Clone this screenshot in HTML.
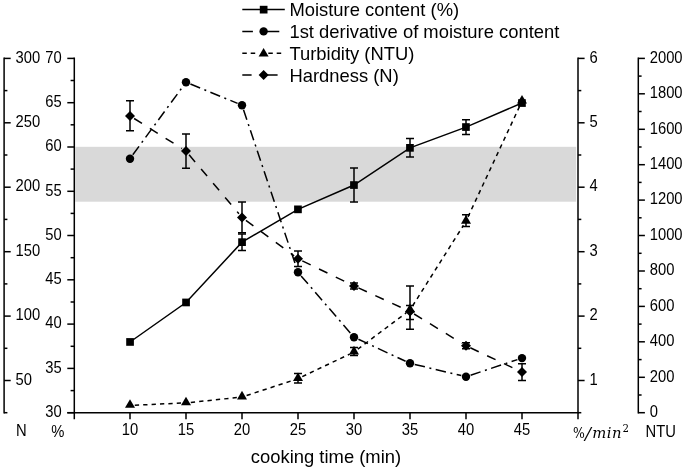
<!DOCTYPE html>
<html lang="en"><head><meta charset="utf-8"><title>Cooking time chart</title>
<style>html,body{margin:0;padding:0;background:#fff}svg{display:block}text{font-family:"Liberation Sans",Arial,sans-serif;fill:#000}.ax{stroke:#000;stroke-width:1.5;fill:none;stroke-linecap:butt}.ln{stroke:#000;stroke-width:1.5;fill:none}.eb{stroke:#000;stroke-width:1.5;fill:none}.m text{font-family:"DejaVu Serif","Liberation Serif",serif}.t{font-size:15.0px}.l{font-size:17.7px}</style>
</head><body>
<svg width="685" height="470" viewBox="0 0 685 470">
<rect width="685" height="470" fill="#fff"/>
<rect x="75.3" y="146.8" width="500.9" height="54.9" fill="#d9d9d9"/>
<path class="ax" d="M4.1 57.6 V413.4"/>
<path class="ax" d="M4.1 412.7 H7.4"/>
<path class="ax" d="M4.1 380.5 H10.7"/>
<text class="t" transform="translate(15.6 384.7) scale(0.985 1.04)">50</text>
<path class="ax" d="M4.1 348.3 H7.4"/>
<path class="ax" d="M4.1 316.1 H10.7"/>
<text class="t" transform="translate(15.6 320.3) scale(0.985 1.04)">100</text>
<path class="ax" d="M4.1 283.9 H7.4"/>
<path class="ax" d="M4.1 251.7 H10.7"/>
<text class="t" transform="translate(15.6 255.9) scale(0.985 1.04)">150</text>
<path class="ax" d="M4.1 219.4 H7.4"/>
<path class="ax" d="M4.1 187.2 H10.7"/>
<text class="t" transform="translate(15.6 191.4) scale(0.985 1.04)">200</text>
<path class="ax" d="M4.1 155.0 H7.4"/>
<path class="ax" d="M4.1 122.8 H10.7"/>
<text class="t" transform="translate(15.6 127.0) scale(0.985 1.04)">250</text>
<path class="ax" d="M4.1 90.6 H7.4"/>
<path class="ax" d="M4.1 58.4 H10.7"/>
<text class="t" transform="translate(15.6 62.6) scale(0.985 1.04)">300</text>
<path class="ax" d="M74.3 57.6 V419.3"/>
<path class="ax" d="M74.3 412.7 H67.3"/>
<text class="t" text-anchor="end" transform="translate(61.8 416.9) scale(0.985 1.04)">30</text>
<path class="ax" d="M74.3 390.6 H70.6"/>
<path class="ax" d="M74.3 368.4 H67.3"/>
<text class="t" text-anchor="end" transform="translate(61.8 372.6) scale(0.985 1.04)">35</text>
<path class="ax" d="M74.3 346.3 H70.6"/>
<path class="ax" d="M74.3 324.1 H67.3"/>
<text class="t" text-anchor="end" transform="translate(61.8 328.3) scale(0.985 1.04)">40</text>
<path class="ax" d="M74.3 302.0 H70.6"/>
<path class="ax" d="M74.3 279.8 H67.3"/>
<text class="t" text-anchor="end" transform="translate(61.8 284.0) scale(0.985 1.04)">45</text>
<path class="ax" d="M74.3 257.7 H70.6"/>
<path class="ax" d="M74.3 235.5 H67.3"/>
<text class="t" text-anchor="end" transform="translate(61.8 239.7) scale(0.985 1.04)">50</text>
<path class="ax" d="M74.3 213.4 H70.6"/>
<path class="ax" d="M74.3 191.3 H67.3"/>
<text class="t" text-anchor="end" transform="translate(61.8 195.5) scale(0.985 1.04)">55</text>
<path class="ax" d="M74.3 169.1 H70.6"/>
<path class="ax" d="M74.3 147.0 H67.3"/>
<text class="t" text-anchor="end" transform="translate(61.8 151.2) scale(0.985 1.04)">60</text>
<path class="ax" d="M74.3 124.8 H70.6"/>
<path class="ax" d="M74.3 102.7 H67.3"/>
<text class="t" text-anchor="end" transform="translate(61.8 106.9) scale(0.985 1.04)">65</text>
<path class="ax" d="M74.3 80.5 H70.6"/>
<path class="ax" d="M74.3 58.4 H67.3"/>
<text class="t" text-anchor="end" transform="translate(61.8 62.6) scale(0.985 1.04)">70</text>
<path class="ax" d="M67.3 412.7 H578.8"/>
<path class="ax" d="M130.0 412.7 V419.3"/>
<text class="t" text-anchor="middle" transform="translate(130.0 434.5) scale(0.985 1.04)">10</text>
<path class="ax" d="M186.0 412.7 V419.3"/>
<text class="t" text-anchor="middle" transform="translate(186.0 434.5) scale(0.985 1.04)">15</text>
<path class="ax" d="M242.0 412.7 V419.3"/>
<text class="t" text-anchor="middle" transform="translate(242.0 434.5) scale(0.985 1.04)">20</text>
<path class="ax" d="M298.0 412.7 V419.3"/>
<text class="t" text-anchor="middle" transform="translate(298.0 434.5) scale(0.985 1.04)">25</text>
<path class="ax" d="M354.0 412.7 V419.3"/>
<text class="t" text-anchor="middle" transform="translate(354.0 434.5) scale(0.985 1.04)">30</text>
<path class="ax" d="M410.0 412.7 V419.3"/>
<text class="t" text-anchor="middle" transform="translate(410.0 434.5) scale(0.985 1.04)">35</text>
<path class="ax" d="M466.0 412.7 V419.3"/>
<text class="t" text-anchor="middle" transform="translate(466.0 434.5) scale(0.985 1.04)">40</text>
<path class="ax" d="M522.0 412.7 V419.3"/>
<text class="t" text-anchor="middle" transform="translate(522.0 434.5) scale(0.985 1.04)">45</text>
<path class="ax" d="M578.0 57.6 V419.3"/>
<path class="ax" d="M578.0 412.7 H581.3"/>
<path class="ax" d="M578.0 380.5 H584.6"/>
<text class="t" transform="translate(589.5 384.7) scale(0.985 1.04)">1</text>
<path class="ax" d="M578.0 348.3 H581.3"/>
<path class="ax" d="M578.0 316.1 H584.6"/>
<text class="t" transform="translate(589.5 320.3) scale(0.985 1.04)">2</text>
<path class="ax" d="M578.0 283.9 H581.3"/>
<path class="ax" d="M578.0 251.7 H584.6"/>
<text class="t" transform="translate(589.5 255.9) scale(0.985 1.04)">3</text>
<path class="ax" d="M578.0 219.4 H581.3"/>
<path class="ax" d="M578.0 187.2 H584.6"/>
<text class="t" transform="translate(589.5 191.4) scale(0.985 1.04)">4</text>
<path class="ax" d="M578.0 155.0 H581.3"/>
<path class="ax" d="M578.0 122.8 H584.6"/>
<text class="t" transform="translate(589.5 127.0) scale(0.985 1.04)">5</text>
<path class="ax" d="M578.0 90.6 H581.3"/>
<path class="ax" d="M578.0 58.4 H584.6"/>
<text class="t" transform="translate(589.5 62.6) scale(0.985 1.04)">6</text>
<path class="ax" d="M638.3 57.6 V413.4"/>
<path class="ax" d="M638.3 412.7 H644.9"/>
<text class="t" transform="translate(649.7 416.9) scale(0.985 1.04)">0</text>
<path class="ax" d="M638.3 395.0 H641.6"/>
<path class="ax" d="M638.3 377.3 H644.9"/>
<text class="t" transform="translate(649.7 381.5) scale(0.985 1.04)">200</text>
<path class="ax" d="M638.3 359.6 H641.6"/>
<path class="ax" d="M638.3 341.8 H644.9"/>
<text class="t" transform="translate(649.7 346.0) scale(0.985 1.04)">400</text>
<path class="ax" d="M638.3 324.1 H641.6"/>
<path class="ax" d="M638.3 306.4 H644.9"/>
<text class="t" transform="translate(649.7 310.6) scale(0.985 1.04)">600</text>
<path class="ax" d="M638.3 288.7 H641.6"/>
<path class="ax" d="M638.3 271.0 H644.9"/>
<text class="t" transform="translate(649.7 275.2) scale(0.985 1.04)">800</text>
<path class="ax" d="M638.3 253.3 H641.6"/>
<path class="ax" d="M638.3 235.5 H644.9"/>
<text class="t" transform="translate(649.7 239.7) scale(0.985 1.04)">1000</text>
<path class="ax" d="M638.3 217.8 H641.6"/>
<path class="ax" d="M638.3 200.1 H644.9"/>
<text class="t" transform="translate(649.7 204.3) scale(0.985 1.04)">1200</text>
<path class="ax" d="M638.3 182.4 H641.6"/>
<path class="ax" d="M638.3 164.7 H644.9"/>
<text class="t" transform="translate(649.7 168.9) scale(0.985 1.04)">1400</text>
<path class="ax" d="M638.3 147.0 H641.6"/>
<path class="ax" d="M638.3 129.3 H644.9"/>
<text class="t" transform="translate(649.7 133.5) scale(0.985 1.04)">1600</text>
<path class="ax" d="M638.3 111.5 H641.6"/>
<path class="ax" d="M638.3 93.8 H644.9"/>
<text class="t" transform="translate(649.7 98.0) scale(0.985 1.04)">1800</text>
<path class="ax" d="M638.3 76.1 H641.6"/>
<path class="ax" d="M638.3 58.4 H644.9"/>
<text class="t" transform="translate(649.7 62.6) scale(0.985 1.04)">2000</text>
<text class="t" transform="translate(16.1 435.5) scale(0.985 1.04)">N</text>
<text class="t" transform="translate(51.2 437.4) scale(0.985 1.04)">%</text>
<text class="t" transform="translate(645.5 437.2) scale(0.985 1.04)">NTU</text>
<g class="m">
<text transform="translate(573 438.1) scale(0.86 1)" font-size="14.5">%</text>
<text transform="translate(584.9 438.6) scale(1.18 1.05)" font-size="15" font-style="italic">/</text>
<text x="592.2" y="438.1" font-size="14.8" font-style="italic" letter-spacing="0.55">min</text>
<text x="622.4" y="431.6" font-size="10.2">2</text>
</g>
<text class="l" text-anchor="middle" transform="translate(326.0 463.1) scale(1.04 1.0)">cooking time (min)</text>
<polyline class="ln" points="130.0,342.0 186.0,302.5 242.0,242.2 298.0,209.3 354.0,185.0 410.0,147.8 466.0,127.1 522.0,103.0"/>
<path class="ln" d="M132.8 154.8L183.2 86.1M190.4 84.0L237.6 103.4M243.5 109.8L296.5 267.7M301.1 275.9L350.9 333.6M358.4 339.2L405.6 361.3M414.7 364.4L461.3 375.6M470.6 375.2L517.4 359.6" stroke-dasharray="10.5 4.6 2 4.5"/>
<path class="ln" d="M134.8 405.2L181.2 403.1M190.8 402.4L237.2 397.5M246.6 395.5L293.4 380.2M302.3 376.6L349.7 354.1M357.8 349.1L406.2 312.9M412.6 305.9L463.4 225.4M468.0 216.9L520.0 105.5" stroke-dasharray="4.3 4.1"/>
<path class="ln" d="M134.1 118.5L181.9 148.5M189.1 154.8L238.9 213.7M245.9 220.3L294.1 255.9M302.3 260.9L349.7 283.8M358.4 287.9L405.6 309.5M414.1 314.0L461.9 343.3M470.3 347.8L517.7 370.1" stroke-dasharray="9.3 9.3"/>
<path class="eb" d="M242.0 233.9V250.5M238.0 233.9H246.0M238.0 250.5H246.0"/>
<path class="eb" d="M354.0 168.0V202.0M350.0 168.0H358.0M350.0 202.0H358.0"/>
<path class="eb" d="M410.0 138.6V157.0M406.0 138.6H414.0M406.0 157.0H414.0"/>
<path class="eb" d="M466.0 119.7V134.5M462.0 119.7H470.0M462.0 134.5H470.0"/>
<path class="eb" d="M298.0 373.4V383.0M294.0 373.4H302.0M294.0 383.0H302.0"/>
<path class="eb" d="M354.0 347.6V355.5M350.0 347.6H358.0M350.0 355.5H358.0"/>
<path class="eb" d="M410.0 286.1V329.3M406.0 286.1H414.0M406.0 329.3H414.0"/>
<path class="eb" d="M466.0 214.7V226.6M462.0 214.7H470.0M462.0 226.6H470.0"/>
<path class="eb" d="M130.0 100.8V130.7M126.0 100.8H134.0M126.0 130.7H134.0"/>
<path class="eb" d="M186.0 134.0V168.2M182.0 134.0H190.0M182.0 168.2H190.0"/>
<path class="eb" d="M242.0 202.1V232.7M238.0 202.1H246.0M238.0 232.7H246.0"/>
<path class="eb" d="M298.0 251.1V266.5M294.0 251.1H302.0M294.0 266.5H302.0"/>
<path class="eb" d="M354.0 282.9V288.9M350.0 282.9H358.0M350.0 288.9H358.0"/>
<path class="eb" d="M410.0 305.6V319.6M406.0 305.6H414.0M406.0 319.6H414.0"/>
<path class="eb" d="M466.0 342.8V348.8M462.0 342.8H470.0M462.0 348.8H470.0"/>
<path class="eb" d="M522.0 363.7V380.5M518.0 363.7H526.0M518.0 380.5H526.0"/>
<rect x="126.2" y="338.1" width="7.7" height="7.7"/>
<rect x="182.2" y="298.6" width="7.7" height="7.7"/>
<rect x="238.2" y="238.3" width="7.7" height="7.7"/>
<rect x="294.1" y="205.5" width="7.7" height="7.7"/>
<rect x="350.1" y="181.2" width="7.7" height="7.7"/>
<rect x="406.1" y="144.0" width="7.7" height="7.7"/>
<rect x="462.1" y="123.2" width="7.7" height="7.7"/>
<rect x="518.1" y="99.2" width="7.7" height="7.7"/>
<circle cx="130.0" cy="158.7" r="4.2"/>
<circle cx="186.0" cy="82.2" r="4.2"/>
<circle cx="242.0" cy="105.2" r="4.2"/>
<circle cx="298.0" cy="272.3" r="4.2"/>
<circle cx="354.0" cy="337.2" r="4.2"/>
<circle cx="410.0" cy="363.3" r="4.2"/>
<circle cx="466.0" cy="376.7" r="4.2"/>
<circle cx="522.0" cy="358.1" r="4.2"/>
<path d="M130.0 399.2L135.0 407.8L125.0 407.8Z"/>
<path d="M186.0 396.7L191.0 405.3L181.0 405.3Z"/>
<path d="M242.0 390.8L247.0 399.4L237.0 399.4Z"/>
<path d="M298.0 372.5L303.0 381.1L293.0 381.1Z"/>
<path d="M354.0 345.8L359.0 354.4L349.0 354.4Z"/>
<path d="M410.0 303.8L415.0 312.4L405.0 312.4Z"/>
<path d="M466.0 215.1L471.0 223.7L461.0 223.7Z"/>
<path d="M522.0 94.9L527.0 103.5L517.0 103.5Z"/>
<path d="M130.0 110.9L135.0 115.9L130.0 120.9L125.0 115.9Z"/>
<path d="M186.0 146.1L191.0 151.1L186.0 156.1L181.0 151.1Z"/>
<path d="M242.0 212.4L247.0 217.4L242.0 222.4L237.0 217.4Z"/>
<path d="M298.0 253.8L303.0 258.8L298.0 263.8L293.0 258.8Z"/>
<path d="M354.0 280.9L359.0 285.9L354.0 290.9L349.0 285.9Z"/>
<path d="M410.0 306.5L415.0 311.5L410.0 316.5L405.0 311.5Z"/>
<path d="M466.0 340.8L471.0 345.8L466.0 350.8L461.0 345.8Z"/>
<path d="M522.0 367.1L527.0 372.1L522.0 377.1L517.0 372.1Z"/>
<path class="ln" d="M242.3 9.6H284.8"/>
<path class="ln" d="M242.3 31.4H252.9M267.0 31.4H279.3"/>
<path class="ln" d="M242.3 53.3H258.9M268.3 53.3H284.8" stroke-dasharray="4.5 3.9" />
<path class="ln" d="M242.3 75.1H251.6M267.0 75.1H277.6"/>
<rect x="259.8" y="5.8" width="7.7" height="7.7"/>
<circle cx="263.6" cy="31.4" r="4.2"/>
<path d="M263.6 48.0L268.6 56.6L258.6 56.6Z"/>
<path d="M263.6 70.1L268.6 75.1L263.6 80.1L258.6 75.1Z"/>
<text class="l" transform="translate(289.4 15.7) scale(1.04 1.0)">Moisture content (%)</text>
<text class="l" transform="translate(289.4 38.0) scale(1.04 1.0)">1st derivative of moisture content</text>
<text class="l" transform="translate(289.4 59.7) scale(1.04 1.0)">Turbidity (NTU)</text>
<text class="l" transform="translate(289.4 81.7) scale(1.04 1.0)">Hardness (N)</text>
</svg></body></html>
